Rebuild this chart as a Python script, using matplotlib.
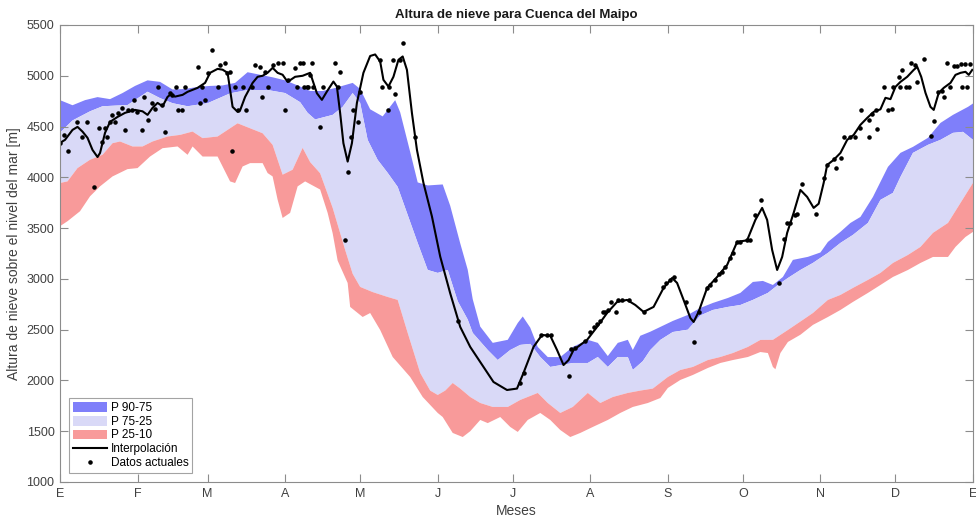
import numpy as np
import matplotlib.pyplot as plt

plt.rcParams['font.family'] = ['Liberation Sans', 'DejaVu Sans']

# month ticks (day of year)
month_days = [0, 31, 59, 90, 120, 151, 181, 212, 243, 273, 304, 334, 365]
month_labels = ['E', 'F', 'M', 'A', 'M', 'J', 'J', 'A', 'S', 'O', 'N', 'D', 'E']

# percentile 90
p90_days = [0, 5, 10, 15, 20, 25, 30, 35, 40, 45, 50, 55, 60, 65, 70, 75, 80, 85, 90, 95,
            100, 105, 110, 117, 120, 124, 129, 134, 136, 140, 143, 147, 153, 156, 160, 163,
            165, 168, 173, 179, 183, 185, 188, 191, 195, 200, 205, 211, 215, 219, 223, 227,
            229, 232, 236, 240, 245, 251, 256, 261, 267, 272, 277, 281, 285, 289, 293, 299,
            304, 307, 312, 316, 320, 325, 331, 336, 341, 347, 352, 357, 363, 365]
p90_vals = [4760, 4710, 4760, 4790, 4770, 4830, 4900, 4955, 4940, 4865, 4870, 4890, 4900, 4905,
            4930, 5035, 5010, 4985, 4955, 4905, 4850, 4850, 4880, 4930, 4870, 4670, 4600, 4760,
            4640, 4250, 3950, 3920, 3930, 3720, 3350, 3090, 2800, 2530, 2370, 2400, 2566, 2630,
            2520, 2330, 2230, 2230, 2330, 2400, 2370, 2240, 2370, 2400, 2300, 2440, 2480, 2527,
            2586, 2645, 2714, 2763, 2812, 2862, 2970, 2980, 2940, 3019, 3187, 3217, 3260, 3364,
            3463, 3551, 3610, 3807, 4103, 4241, 4300, 4389, 4536, 4615, 4694, 4727]

# percentile 75
p75_days = [0, 5, 12, 17, 27, 35, 40, 45, 51, 59, 68, 75, 83, 90, 96, 99, 102, 109, 113, 117,
            120, 123, 127, 131, 135, 139, 143, 147, 151, 155, 159, 163, 165, 171, 175, 180, 184,
            188, 192, 196, 200, 205, 211, 215, 219, 223, 227, 229, 233, 236, 240, 245, 251, 256,
            261, 267, 272, 277, 283, 287, 291, 296, 301, 307, 312, 317, 323, 328, 333, 336, 341,
            347, 352, 357, 361, 365]
p75_vals = [4440, 4560, 4650, 4700, 4712, 4843, 4780, 4730, 4700, 4730, 4827, 4860, 4860, 4830,
            4740, 4635, 4570, 4615, 4694, 4830, 4733, 4369, 4172, 4044, 3906, 3630, 3354, 3088,
            3059, 3088, 2780, 2600, 2468, 2300, 2201, 2300, 2350, 2360, 2231, 2133, 2150, 2172,
            2172, 2231, 2133, 2231, 2231, 2103, 2190, 2300, 2399, 2477, 2500, 2640, 2694, 2724,
            2743, 2793, 2862, 2940, 3009, 3088, 3157, 3256, 3354, 3433, 3551, 3778, 3847, 4004,
            4241, 4320, 4369, 4438, 4448, 4369]

# percentile 25
p25_days = [0, 3, 7, 12, 17, 21, 24, 29, 33, 37, 43, 48, 53, 57, 63, 67, 71, 76, 81, 85, 89,
            93, 97, 100, 104, 109, 114, 117, 120, 125, 131, 135, 139, 144, 148, 151, 154, 157,
            160, 164, 168, 173, 179, 184, 191, 195, 200, 205, 211, 216, 221, 227, 232, 237, 243,
            248, 253, 259, 264, 269, 275, 280, 285, 291, 296, 301, 307, 312, 317, 323, 328, 333,
            339, 344, 349, 355, 360, 365]
p25_vals = [3944, 3960, 4091, 4173, 4222, 4336, 4353, 4304, 4304, 4353, 4402, 4418, 4451, 4386,
            4402, 4467, 4532, 4483, 4434, 4320, 4026, 4075, 4290, 4150, 4040, 3700, 3285, 3050,
            2921, 2870, 2822, 2793, 2468, 2074, 1900, 1857, 1900, 1975, 1920, 1837, 1778, 1739,
            1739, 1808, 1877, 1778, 1680, 1739, 1877, 1778, 1837, 1877, 1900, 1920, 2034, 2103,
            2133, 2201, 2231, 2270, 2330, 2399, 2400, 2497, 2580, 2664, 2793, 2842, 2911, 2990,
            3059, 3157, 3236, 3315, 3453, 3551, 3748, 3945]

# percentile 10
p10_days = [0, 3, 8, 12, 16, 21, 27, 31, 36, 41, 47, 51, 53, 57, 63, 68, 70, 73, 76, 81, 83,
            85, 87, 89, 92, 95, 98, 101, 104, 107, 109, 111, 115, 116, 121, 124, 128, 133, 140,
            145, 151, 153, 157, 161, 164, 168, 171, 176, 180, 183, 187, 192, 196, 200, 204, 208,
            213, 219, 224, 229, 235, 240, 243, 248, 253, 259, 264, 269, 275, 280, 283, 285, 286,
            288, 291, 296, 301, 307, 312, 317, 323, 328, 333, 339, 344, 349, 355, 358, 362, 365]
p10_vals = [3519, 3568, 3666, 3813, 3911, 4009, 4081, 4091, 4205, 4287, 4304, 4222, 4304, 4205,
            4205, 3960, 3944, 4107, 4140, 4140, 4042, 4009, 3780, 3600, 3650, 3911, 3960, 3920,
            3880, 3650, 3450, 3180, 2960, 2724, 2625, 2664, 2497, 2231, 2034, 1837, 1680, 1640,
            1483, 1443, 1500, 1611, 1580, 1640, 1542, 1493, 1611, 1680, 1611, 1512, 1443, 1483,
            1542, 1611, 1680, 1739, 1778, 1827, 1926, 2005, 2054, 2123, 2172, 2201, 2231, 2280,
            2270, 2133, 2110, 2270, 2379, 2450, 2547, 2625, 2694, 2773, 2862, 2940, 3019, 3088,
            3157, 3216, 3216, 3315, 3413, 3463]

# interpolated line
line_days = [0, 2, 5, 7, 9, 11, 13, 15, 16, 18, 20, 23, 26, 30, 33, 35, 37, 39, 41, 43, 44, 46,
             49, 51, 55, 58, 60, 63, 65, 67, 68, 69, 71, 72, 74, 77, 79, 81, 83, 85, 87, 89, 91,
             94, 97, 100, 102.7, 104.7, 106.7, 109.3, 110.7, 112, 113.3, 115, 116.7, 118.7,
             121.3, 124, 126, 128, 129.3, 131.3, 133.3, 135.3, 137, 138.7, 140.7, 142.7, 145.3,
             148.7, 152, 156, 160, 164, 169.3, 173.3, 178.7, 182.7, 185.3, 189.3, 192.7, 196,
             198.7, 201.3, 203.3, 205.3, 210.7, 214.7, 218.7, 222.7, 226.7, 230, 233.3, 237.3,
             241.3, 244.7, 246.7, 249.3, 252, 253.3, 255.3, 258.7, 262.7, 266.7, 270.7, 274.7,
             278, 280.7, 282.7, 284.7, 286.7, 288.7, 290.7, 293.3, 296, 298.7, 301.3, 303.3,
             305.3, 306.7, 309.3, 312, 314.7, 317.3, 320, 322.7, 325.3, 328, 330, 332, 334, 336,
             338.7, 341.3, 342.7, 344.3, 346, 348, 349.3, 351.3, 353.3, 356, 358, 360, 362,
             363.3, 364.7]
line_vals = [4339, 4369, 4467, 4497, 4450, 4389, 4270, 4200, 4240, 4438, 4546, 4595, 4635, 4664,
             4650, 4615, 4684, 4733, 4700, 4792, 4812, 4795, 4812, 4842, 4881, 4930, 5029, 5068,
             5060, 5029, 4861, 4694, 4645, 4660, 4792, 4930, 4990, 5000, 5030, 5078, 5029, 5010,
             4940, 4990, 5000, 5029, 4828, 4763, 4845, 4943, 4894, 4632, 4336, 4155, 4336, 4733,
             5029, 5195, 5210, 5140, 4960, 4894, 4990, 5157, 5190, 5058, 4632, 4270, 3945, 3614,
             3220, 2858, 2527, 2330, 2133, 1985, 1906, 1920, 2074, 2330, 2448, 2440, 2300, 2152,
             2200, 2300, 2399, 2527, 2664, 2773, 2793, 2743, 2675, 2724, 2911, 3009, 2960, 2793,
             2615, 2576, 2675, 2911, 3019, 3137, 3364, 3380, 3581, 3699, 3581, 3285, 3088, 3216,
             3453, 3650, 3876, 3807, 3699, 3740, 3945, 4122, 4172, 4240, 4369, 4418, 4517, 4585,
             4645, 4670, 4783, 4770, 4891, 4940, 4990, 5058, 5088, 4990, 4832, 4694, 4664, 4832,
             4881, 4930, 5009, 5029, 5039, 5009, 5058]

# observed data
obs_days = [0, 1.7, 3.1, 6.7, 8.9, 10.8, 13.7, 15.7, 16.7, 18, 18.9, 20, 20.9, 22, 23.3, 24.7,
            26, 27.3, 28.7, 29.7, 30.7, 32.9, 33.7, 35.1, 36.7, 38, 39.3, 40.9, 42, 44, 44.9,
            46.3, 47.3, 48.9, 50, 55.1, 56, 56.7, 58, 59.3, 60.9, 63.3, 64, 66, 66.7, 68, 68.9,
            70, 71.1, 73.3, 74.3, 76.7, 78, 80, 80.9, 82, 83.3, 85.3, 87.1, 89.3, 90, 91.3, 94,
            94.7, 96, 97.3, 97.7, 99.3, 100.7, 101.3, 98.9, 100, 105.1, 104, 110, 112, 111.3,
            117.1, 116.3, 119.1, 115.1, 114, 120, 128, 128.7, 131, 131.7, 133.1, 134, 136, 137.1,
            142, 159.1, 184, 185.3, 192.4, 194.7, 196.4, 203.3, 204.4, 206, 210, 212, 213.3,
            214.7, 216, 217, 218, 219, 220.4, 222.3, 223, 224.7, 227.3, 233.3, 241, 242.4, 243.7,
            245.3, 250.3, 253.3, 255.3, 258.7, 260, 262, 263.3, 264.7, 266, 268, 269, 270.7, 272,
            274.7, 276, 278, 280.3, 287.3, 289.3, 290.7, 292, 294, 294.7, 296.7, 302.4, 305.3,
            306.7, 309.3, 310.4, 312.3, 313.3, 315.7, 318, 323.3, 319.7, 320.4, 323.3, 324.7,
            326.4, 326.7, 329.6, 333.1, 331, 332.7, 335.3, 336, 338.4, 339.3, 336.7, 340.4, 342,
            342.7, 345.6, 348.4, 349.3, 351, 352.7, 353.6, 354.7, 356, 357.6, 358.7, 360.3, 362,
            363.7, 360.7, 362.7]
obs_vals = [4336, 4418, 4260, 4549, 4401, 4549, 3909, 4483, 4352, 4483, 4401, 4549, 4615, 4549,
            4631, 4680, 4467, 4664, 4664, 4763, 4648, 4467, 4795, 4566, 4730, 4671, 4894, 4713,
            4451, 4828, 4812, 4894, 4664, 4664, 4894, 5091, 4736, 4894, 4763, 5032, 5255, 4894,
            5107, 5130, 5032, 5042, 4264, 4894, 4664, 4894, 4664, 4894, 5107, 5091, 4795, 5042,
            4894, 5107, 5124, 5124, 4664, 4960, 5074, 4894, 5124, 5124, 4894, 4894, 5124, 4894,
            4894, 5009, 4894, 4500, 5124, 5042, 4894, 4664, 4401, 4549, 4057, 3384, 4845, 5157,
            4894, 4664, 4894, 5157, 4818, 5157, 5321, 4401, 2586, 1978, 2070, 2448, 2448, 2448,
            2044, 2307, 2317, 2392, 2481, 2523, 2556, 2589, 2678, 2678, 2694, 2770, 2678, 2793,
            2793, 2793, 2678, 2918, 2964, 2990, 3016, 2777, 2383, 2678, 2908, 2941, 2990, 3049,
            3072, 3121, 3203, 3253, 3368, 3368, 3384, 3384, 3630, 3778, 2964, 3391, 3548, 3555,
            3630, 3640, 3932, 3636, 3991, 4122, 4178, 4089, 4188, 4395, 4395, 4395, 4395, 4483,
            4664, 4566, 4625, 4664, 4474, 4894, 4894, 4664, 4671, 4992, 4894, 4894, 4894, 5058,
            5124, 5107, 4943, 5163, 4408, 4556, 4845, 4855, 4789, 5124, 4887, 5097, 5097, 5117,
            5117, 5117, 4887, 4887]

c_hi = '#7f7ffa'
c_mid = '#d9d9f7'
c_lo = '#f89a9a'
text_c = '#404040'
axis_c = '#8c8c8c'

fig = plt.figure(figsize=(9.76, 5.23), dpi=100)
ax = fig.add_axes([60 / 976, 41 / 523, 913 / 976, 457 / 523])


def band(d_top, v_top, d_bot, v_bot, color, label):
    xs = np.r_[d_top, d_bot[::-1]]
    ys = np.r_[v_top, v_bot[::-1]]
    ax.fill(xs, ys, color=color, lw=0, label=label)


band(p90_days, p90_vals, p75_days, p75_vals, c_hi, 'P 90-75')
band(p75_days, p75_vals, p25_days, p25_vals, c_mid, 'P 75-25')
band(p25_days, p25_vals, p10_days, p10_vals, c_lo, 'P 25-10')
ax.plot(line_days, line_vals, color='k', lw=1.5, solid_joinstyle='round',
        label='Interpolación')
ax.plot(obs_days, obs_vals, 'k.', ms=4.5, lw=0, label='Datos actuales')

ax.set_xlim(0, 365)
ax.set_ylim(1000, 5500)
ax.set_xticks(month_days)
ax.set_xticklabels(month_labels)
ax.set_yticks(np.arange(1000, 5501, 500))
ax.tick_params(direction='in', length=6, width=0.8, colors=axis_c, labelcolor=text_c,
               labelsize=9, top=True, right=True, pad=4)
for s in ax.spines.values():
    s.set_color(axis_c)
    s.set_linewidth(0.8)

ax.set_title('Altura de nieve para Cuenca del Maipo', fontsize=9.5, fontweight='bold',
             color='#1a1a1a', pad=5)
ax.set_xlabel('Meses', fontsize=10, color=text_c, labelpad=3)
ax.set_ylabel('Altura de nieve sobre el nivel del mar [m]', fontsize=10, color=text_c,
              labelpad=4)

leg = ax.legend(loc='lower left', fontsize=8.5, frameon=True, fancybox=False,
                edgecolor='#8c8c8c', handlelength=2.9, handleheight=0.9, borderpad=0.3,
                labelspacing=0.15, handletextpad=0.3, borderaxespad=0.8)
leg.get_frame().set_linewidth(0.8)

fig.savefig('out.png', dpi=100)
